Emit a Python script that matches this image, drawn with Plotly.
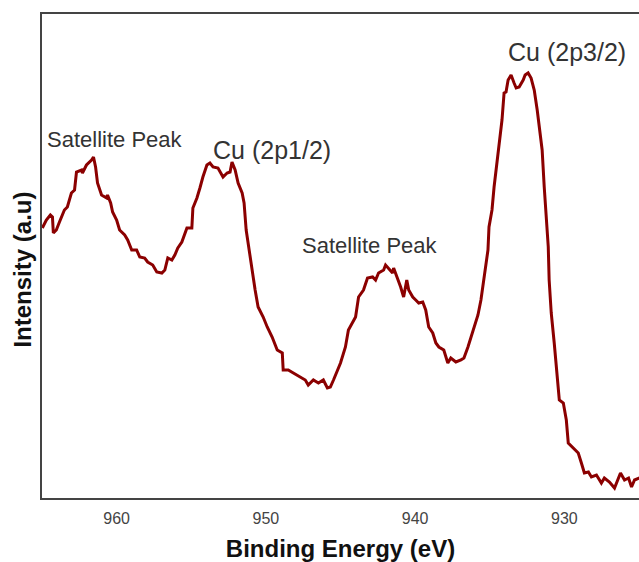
import plotly.graph_objects as go

# Binding energy (eV) and intensity (a.u.)
energy_ev = [964.98, 964.71, 964.44, 964.30, 964.24, 964.04, 963.83, 963.50, 963.30, 963.03,
             962.82, 962.69, 962.35, 962.29, 962.02, 961.68, 961.55, 961.41, 961.28, 961.01,
             960.67, 960.61, 960.40, 960.27, 960.00, 959.80, 959.46, 959.26, 958.99, 958.66,
             958.45, 958.12, 957.92, 957.58, 957.31, 956.97, 956.77, 956.57, 956.30, 956.10,
             955.90, 955.63, 955.29, 954.96, 954.89, 954.62, 954.42, 954.22, 953.95, 953.75,
             953.54, 953.21, 952.87, 952.60, 952.40, 952.27, 952.06, 951.86, 951.59, 951.46,
             951.32, 951.12, 950.92, 950.72, 950.52, 950.18, 949.91, 949.58, 949.24, 948.90,
             948.84, 948.50, 948.16, 947.69, 947.36, 947.16, 946.82, 946.48, 946.15, 945.88,
             945.68, 945.47, 945.21, 945.00, 944.67, 944.47, 943.99, 943.79, 943.46, 943.19,
             942.85, 942.65, 942.45, 942.11, 941.98, 941.78, 941.51, 941.44, 941.17, 940.97,
             940.77, 940.56, 940.43, 940.16, 939.96, 939.76, 939.49, 939.29, 939.09, 938.82,
             938.61, 938.41, 938.08, 937.81, 937.61, 937.27, 936.93, 936.73, 936.46, 936.26,
             936.06, 935.79, 935.59, 935.39, 935.12, 935.05, 934.85, 934.71, 934.51, 934.38,
             934.18, 934.04, 933.91, 933.77, 933.57, 933.37, 933.23, 933.03, 932.76, 932.63,
             932.43, 932.23, 932.02, 931.82, 931.69, 931.49, 931.35, 931.22, 931.08, 931.02,
             930.88, 930.68, 930.54, 930.34, 930.07, 929.87, 929.74, 929.40, 929.07, 928.86,
             928.66, 928.39, 928.19, 927.85, 927.52, 927.32, 926.98, 926.64, 926.44, 926.24,
             925.97, 925.70, 925.50, 925.30, 924.96]

intensity_au = [270, 278, 283, 281, 265, 268, 276, 288, 291, 305,
                308, 326, 328, 325, 333, 338, 341, 331, 315, 303,
                300, 303, 295, 286, 278, 268, 263, 258, 248, 248,
                241, 240, 236, 233, 226, 225, 228, 240, 238, 243,
                250, 256, 270, 270, 290, 300, 310, 321, 333, 335,
                331, 330, 321, 325, 326, 336, 328, 315, 305, 295,
                268, 248, 225, 208, 191, 181, 171, 161, 148, 145,
                128, 128, 125, 121, 118, 113, 118, 115, 118, 110,
                111, 118, 128, 135, 151, 168, 181, 201, 208, 220,
                221, 218, 225, 228, 233, 230, 225, 230, 220, 211,
                201, 218, 208, 201, 198, 195, 196, 188, 171, 165,
                155, 151, 148, 135, 140, 136, 138, 140, 151, 161,
                171, 183, 198, 221, 248, 271, 288, 311, 338, 355,
                378, 405, 406, 418, 423, 415, 410, 411, 418, 423,
                425, 420, 408, 388, 371, 348, 311, 281, 251, 218,
                185, 155, 131, 98, 95, 78, 55, 50, 45, 35,
                25, 26, 21, 23, 15, 20, 16, 10, 18, 25,
                18, 20, 11, 18, 20]

x_ticks = [960, 950, 940, 930]

peak_labels = ["Satellite Peak", "Cu (2p1/2)", "Satellite Peak", "Cu (2p3/2)"]
peak_label_x = [960.1, 949.6, 943.0, 929.8]
peak_label_y = [359, 348, 253, 446]
peak_label_size = [22, 25, 22, 25]

fig = go.Figure()
fig.add_trace(go.Scatter(
    x=energy_ev, y=intensity_au, mode="lines",
    line=dict(color="#8B0000", width=3),
    showlegend=False, hoverinfo="skip",
))

for txt, lx, ly, fs in zip(peak_labels, peak_label_x, peak_label_y, peak_label_size):
    fig.add_annotation(x=lx, y=ly, text=txt, showarrow=False,
                       font=dict(family="Liberation Sans, Arial", size=fs, color="#333333"),
                       xanchor="center", yanchor="middle")

# y-axis title placed as a rotated annotation (sits slightly below the axis centre)
fig.add_annotation(xref="paper", yref="paper", x=0, y=0.472, xshift=-19,
                   text="<b>Intensity (a.u)</b>", textangle=-90, showarrow=False,
                   font=dict(family="Liberation Sans, Arial", size=24, color="#111111"),
                   xanchor="center", yanchor="middle")

fig.update_layout(
    width=639, height=562,
    margin=dict(l=42, r=0, t=14, b=64),
    paper_bgcolor="white", plot_bgcolor="white",
    font=dict(family="Liberation Sans, Arial", color="#333333"),
    xaxis=dict(
        range=[965, 925], tickvals=x_ticks, ticks="", showgrid=False, zeroline=False,
        showline=True, linecolor="#444444", linewidth=2, mirror=True,
        tickfont=dict(size=16, color="#444444"), ticklabelstandoff=5,
        title=dict(text="<b>Binding Energy (eV)</b>", font=dict(size=24, color="#111111"),
                   standoff=14),
    ),
    yaxis=dict(
        range=[0, 484], showticklabels=False, ticks="", showgrid=False, zeroline=False,
        showline=True, linecolor="#444444", linewidth=2,
    ),
)

fig.write_html(
    "out.html",
    config={"displayModeBar": False},
    post_script="document.body.style.margin='0';document.body.style.overflow='hidden';",
)
